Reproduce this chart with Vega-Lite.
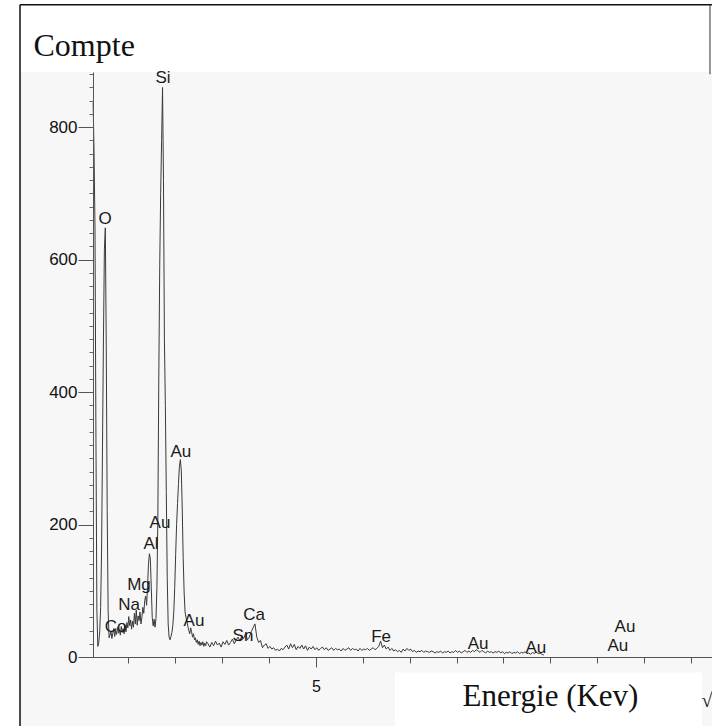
{
  "$schema": "https://vega.github.io/schema/vega-lite/v6.json",
  "autosize": "none",
  "width": 619,
  "height": 585,
  "padding": {"left": 93, "top": 72, "right": 0, "bottom": 69},
  "background": "white",
  "config": {"view": {"stroke": null}},
  "resolve": {"axis": {"x": "independent", "y": "independent"}},
  "datasets": {
    "spectrum": [
      {"e":0.25,"c":837},{"e":0.27,"c":760},{"e":0.29,"c":645},{"e":0.31,"c":330},{"e":0.33,"c":70},{"e":0.35,"c":16},{"e":0.37,"c":22},{"e":0.39,"c":38},{"e":0.41,"c":75},{"e":0.43,"c":160},{"e":0.45,"c":320},{"e":0.47,"c":480},{"e":0.49,"c":615},{"e":0.51,"c":648},{"e":0.53,"c":470},{"e":0.55,"c":220},{"e":0.57,"c":70},{"e":0.59,"c":29},
      {"e":0.61,"c":33},{"e":0.63,"c":39},{"e":0.65,"c":28},{"e":0.67,"c":36},{"e":0.69,"c":43},{"e":0.71,"c":31},{"e":0.73,"c":40},{"e":0.75,"c":34},{"e":0.77,"c":45},{"e":0.79,"c":36},{"e":0.81,"c":41},{"e":0.83,"c":33},{"e":0.85,"c":46},{"e":0.87,"c":37},{"e":0.89,"c":43},{"e":0.91,"c":35},{"e":0.93,"c":48},{"e":0.95,"c":38},{"e":0.97,"c":52},{"e":0.99,"c":44},
      {"e":1.01,"c":61},{"e":1.03,"c":47},{"e":1.05,"c":56},{"e":1.07,"c":42},{"e":1.09,"c":54},{"e":1.11,"c":45},{"e":1.13,"c":66},{"e":1.15,"c":50},{"e":1.17,"c":71},{"e":1.19,"c":48},{"e":1.21,"c":62},{"e":1.23,"c":55},{"e":1.25,"c":68},{"e":1.27,"c":50},{"e":1.29,"c":60},{"e":1.31,"c":75},{"e":1.33,"c":66},{"e":1.35,"c":85},{"e":1.37,"c":92},{"e":1.39,"c":78},{"e":1.41,"c":105},{"e":1.43,"c":140},{"e":1.45,"c":156},{"e":1.47,"c":148},{"e":1.49,"c":105},{"e":1.51,"c":60},{"e":1.53,"c":47},{"e":1.55,"c":57},{"e":1.57,"c":45},{"e":1.59,"c":58},
      {"e":1.61,"c":105},{"e":1.63,"c":210},{"e":1.65,"c":420},{"e":1.67,"c":590},{"e":1.69,"c":700},{"e":1.71,"c":780},{"e":1.73,"c":860},{"e":1.75,"c":720},{"e":1.77,"c":480},{"e":1.79,"c":380},{"e":1.81,"c":250},{"e":1.83,"c":120},{"e":1.85,"c":50},{"e":1.87,"c":30},{"e":1.89,"c":26},{"e":1.91,"c":31},{"e":1.93,"c":37},{"e":1.95,"c":48},{"e":1.97,"c":68},{"e":1.99,"c":105},
      {"e":2.01,"c":155},{"e":2.03,"c":200},{"e":2.05,"c":232},{"e":2.07,"c":262},{"e":2.09,"c":288},{"e":2.11,"c":298},{"e":2.13,"c":282},{"e":2.15,"c":225},{"e":2.17,"c":150},{"e":2.19,"c":98},{"e":2.21,"c":68},{"e":2.23,"c":60},{"e":2.25,"c":54},{"e":2.27,"c":46},{"e":2.29,"c":40},{"e":2.31,"c":35},{"e":2.33,"c":44},{"e":2.35,"c":38},{"e":2.37,"c":30},{"e":2.39,"c":35},{"e":2.41,"c":26},{"e":2.43,"c":29},{"e":2.45,"c":22},{"e":2.47,"c":26},{"e":2.49,"c":19},{"e":2.51,"c":24},{"e":2.53,"c":17},{"e":2.55,"c":22},{"e":2.57,"c":18},{"e":2.59,"c":23},{"e":2.61,"c":16},{"e":2.63,"c":21},{"e":2.65,"c":17},{"e":2.67,"c":23},
      {"e":2.70,"c":20},{"e":2.74,"c":15},{"e":2.78,"c":22},{"e":2.82,"c":17},{"e":2.86,"c":24},{"e":2.90,"c":18},{"e":2.94,"c":21},{"e":2.98,"c":15},{"e":3.02,"c":23},{"e":3.06,"c":19},{"e":3.10,"c":25},{"e":3.14,"c":18},{"e":3.18,"c":22},{"e":3.22,"c":27},{"e":3.26,"c":20},{"e":3.30,"c":26},{"e":3.34,"c":30},{"e":3.38,"c":24},{"e":3.42,"c":32},{"e":3.46,"c":28},{"e":3.50,"c":35},{"e":3.54,"c":26},{"e":3.58,"c":30},{"e":3.62,"c":38},{"e":3.66,"c":44},{"e":3.70,"c":50},{"e":3.74,"c":30},{"e":3.78,"c":22},{"e":3.82,"c":25},{"e":3.86,"c":14},{"e":3.90,"c":18},{"e":3.94,"c":20},{"e":3.98,"c":13},
      {"e":4.02,"c":16},{"e":4.06,"c":12},{"e":4.10,"c":14},{"e":4.14,"c":10},{"e":4.18,"c":12},{"e":4.22,"c":9},{"e":4.26,"c":13},{"e":4.30,"c":11},{"e":4.34,"c":15},{"e":4.38,"c":18},{"e":4.42,"c":12},{"e":4.46,"c":20},{"e":4.50,"c":14},{"e":4.54,"c":19},{"e":4.58,"c":11},{"e":4.62,"c":16},{"e":4.66,"c":13},{"e":4.70,"c":18},{"e":4.74,"c":12},{"e":4.78,"c":17},{"e":4.82,"c":10},{"e":4.86,"c":15},{"e":4.90,"c":12},{"e":4.94,"c":16},{"e":4.98,"c":11},
      {"e":5.02,"c":14},{"e":5.06,"c":10},{"e":5.10,"c":13},{"e":5.14,"c":15},{"e":5.18,"c":11},{"e":5.22,"c":14},{"e":5.26,"c":10},{"e":5.30,"c":12},{"e":5.34,"c":14},{"e":5.38,"c":10},{"e":5.42,"c":13},{"e":5.46,"c":11},{"e":5.50,"c":12},{"e":5.54,"c":9},{"e":5.58,"c":13},{"e":5.62,"c":10},{"e":5.66,"c":12},{"e":5.70,"c":14},{"e":5.74,"c":10},{"e":5.78,"c":13},{"e":5.82,"c":11},{"e":5.86,"c":12},{"e":5.90,"c":9},{"e":5.94,"c":13},{"e":5.98,"c":10},
      {"e":6.02,"c":12},{"e":6.06,"c":11},{"e":6.10,"c":13},{"e":6.14,"c":10},{"e":6.18,"c":12},{"e":6.22,"c":14},{"e":6.26,"c":11},{"e":6.30,"c":13},{"e":6.34,"c":16},{"e":6.38,"c":24},{"e":6.42,"c":14},{"e":6.46,"c":18},{"e":6.50,"c":12},{"e":6.54,"c":15},{"e":6.58,"c":10},{"e":6.62,"c":13},{"e":6.66,"c":9},{"e":6.70,"c":11},{"e":6.74,"c":8},{"e":6.78,"c":10},{"e":6.82,"c":7},{"e":6.86,"c":12},{"e":6.90,"c":9},{"e":6.94,"c":13},{"e":6.98,"c":10},
      {"e":7.02,"c":12},{"e":7.06,"c":8},{"e":7.10,"c":10},{"e":7.14,"c":7},{"e":7.18,"c":9},{"e":7.22,"c":8},{"e":7.26,"c":10},{"e":7.30,"c":7},{"e":7.34,"c":9},{"e":7.38,"c":8},{"e":7.42,"c":7},{"e":7.46,"c":9},{"e":7.50,"c":8},{"e":7.54,"c":6},{"e":7.58,"c":8},{"e":7.62,"c":7},{"e":7.66,"c":9},{"e":7.70,"c":6},{"e":7.74,"c":8},{"e":7.78,"c":7},{"e":7.82,"c":9},{"e":7.86,"c":6},{"e":7.90,"c":8},{"e":7.94,"c":7},{"e":7.98,"c":10},
      {"e":8.02,"c":7},{"e":8.06,"c":9},{"e":8.10,"c":6},{"e":8.14,"c":8},{"e":8.18,"c":10},{"e":8.22,"c":7},{"e":8.26,"c":9},{"e":8.30,"c":7},{"e":8.34,"c":10},{"e":8.38,"c":8},{"e":8.42,"c":11},{"e":8.46,"c":9},{"e":8.50,"c":7},{"e":8.54,"c":10},{"e":8.58,"c":8},{"e":8.62,"c":6},{"e":8.66,"c":9},{"e":8.70,"c":7},{"e":8.74,"c":8},{"e":8.78,"c":6},{"e":8.82,"c":8},{"e":8.86,"c":7},{"e":8.90,"c":9},{"e":8.94,"c":6},{"e":8.98,"c":8},
      {"e":9.02,"c":5},{"e":9.06,"c":7},{"e":9.10,"c":6},{"e":9.14,"c":8},{"e":9.18,"c":5},{"e":9.22,"c":7},{"e":9.26,"c":6},{"e":9.30,"c":8},{"e":9.34,"c":5},{"e":9.38,"c":7},{"e":9.42,"c":6},{"e":9.46,"c":8},{"e":9.50,"c":5},{"e":9.54,"c":6},{"e":9.58,"c":4},{"e":9.62,"c":7},{"e":9.66,"c":5},{"e":9.70,"c":8},{"e":9.74,"c":5},{"e":9.78,"c":6},{"e":9.82,"c":4},{"e":9.86,"c":3}
    ],
    "labels": [
      {"e":1.74,"c":875,"t":"Si"},
      {"e":0.503,"c":661,"t":"O"},
      {"e":2.12,"c":310,"t":"Au"},
      {"e":1.676,"c":202,"t":"Au"},
      {"e":1.484,"c":170,"t":"Al"},
      {"e":1.228,"c":108,"t":"Mg"},
      {"e":1.015,"c":78,"t":"Na"},
      {"e":0.727,"c":45,"t":"Co"},
      {"e":2.40,"c":55,"t":"Au"},
      {"e":3.445,"c":32,"t":"Sn"},
      {"e":3.68,"c":64,"t":"Ca"},
      {"e":6.39,"c":30,"t":"Fe"},
      {"e":8.46,"c":19,"t":"Au"},
      {"e":9.69,"c":14,"t":"Au"},
      {"e":11.59,"c":46,"t":"Au"},
      {"e":11.44,"c":16,"t":"Au"}
    ]
  },
  "layer": [
    {
      "data": {"values": [{}]},
      "mark": {"type": "rect", "fill": "#f7f7f7", "stroke": null},
      "encoding": {
        "x": {"datum": -1.309, "type": "quantitative", "axis": null},
        "x2": {"datum": 13.8},
        "y": {"datum": 883.4, "type": "quantitative", "axis": null},
        "y2": {"datum": -115}
      }
    },
    {
      "data": {"values": [{}]},
      "mark": {"type": "rect", "fill": "white", "stroke": null},
      "encoding": {
        "x": {"datum": 6.687, "type": "quantitative", "axis": null},
        "x2": {"datum": 13.232},
        "y": {"datum": -23.4, "type": "quantitative", "axis": null},
        "y2": {"datum": -115}
      }
    },
    {
      "data": {"values": [{}]},
      "mark": {"type": "rule", "color": "#111", "strokeWidth": 1.5},
      "encoding": {
        "x": {"datum": -1.309, "type": "quantitative", "axis": null},
        "x2": {"datum": 13.8},
        "y": {"datum": 985, "type": "quantitative", "axis": null}
      }
    },
    {
      "data": {"values": [{}]},
      "mark": {"type": "rule", "color": "#111", "strokeWidth": 1.5},
      "encoding": {
        "x": {"datum": -1.309, "type": "quantitative", "axis": null},
        "y": {"datum": 985, "type": "quantitative", "axis": null},
        "y2": {"datum": -115}
      }
    },
    {
      "data": {"values": [{}]},
      "mark": {"type": "rule", "color": "#333", "strokeWidth": 1},
      "encoding": {
        "x": {"datum": 13.403, "type": "quantitative", "axis": null},
        "y": {"datum": 985, "type": "quantitative", "axis": null},
        "y2": {"datum": 880}
      }
    },
    {
      "data": {"values": [{}]},
      "mark": {"type": "text", "font": "Liberation Serif", "fontSize": 20, "color": "#111", "align": "center", "baseline": "alphabetic", "text": "√"},
      "encoding": {
        "x": {"datum": 13.34, "type": "quantitative", "axis": null},
        "y": {"datum": -76, "type": "quantitative", "axis": null}
      }
    },
    {
      "data": {"name": "spectrum"},
      "mark": {"type": "line", "color": "#3a3a3a", "strokeWidth": 1, "interpolate": "linear"},
      "encoding": {
        "x": {
          "field": "e", "type": "quantitative",
          "scale": {"domain": [0.2473, 13.446], "nice": false, "zero": false},
          "axis": {
            "orient": "bottom",
            "zindex": 1,
            "values": [1,2,3,4,5,6,7,8,9,10,11,12,13],
            "labels": false,
            "grid": false,
            "domainColor": "#555",
            "tickColor": "#555",
            "tickSize": 6,
            "title": "Energie (Kev)",
            "titleFont": "Liberation Serif",
            "titleFontSize": 31,
            "titleFontWeight": "normal",
            "titleColor": "#111",
            "titleX": 457,
            "titleY": 48,
            "titleAlign": "center",
            "titleBaseline": "alphabetic"
          }
        },
        "y": {
          "field": "c", "type": "quantitative",
          "scale": {"domain": [0, 883.4], "nice": false},
          "axis": {
            "orient": "left",
            "zindex": 1,
            "values": [0,20,40,60,80,100,120,140,160,180,200,220,240,260,280,300,320,340,360,380,400,420,440,460,480,500,520,540,560,580,600,620,640,660,680,700,720,740,760,780,800,820,840,860,880],
            "labels": false,
            "grid": false,
            "domainColor": "#555",
            "tickColor": "#666",
            "tickSize": 4,
            "title": "Compte",
            "titleFont": "Liberation Serif",
            "titleFontSize": 32,
            "titleFontWeight": "normal",
            "titleColor": "#111",
            "titleAngle": 0,
            "titleX": -60,
            "titleY": -17,
            "titleAlign": "left",
            "titleBaseline": "alphabetic"
          }
        }
      }
    },
    {
      "data": {"name": "labels"},
      "mark": {"type": "text", "font": "Liberation Sans", "fontSize": 17, "color": "#1a1a1a", "align": "center", "baseline": "middle"},
      "encoding": {
        "x": {
          "field": "e", "type": "quantitative",
          "axis": {
            "orient": "bottom",
            "zindex": 1,
            "values": [5],
            "domain": false,
            "grid": false,
            "tickColor": "#555",
            "tickSize": 10,
            "labelFont": "Liberation Sans",
            "labelFontSize": 16,
            "labelColor": "#111",
            "labelPadding": 11,
            "labelFlush": false,
            "title": null
          }
        },
        "y": {
          "field": "c", "type": "quantitative",
          "axis": {
            "orient": "left",
            "zindex": 1,
            "values": [0,200,400,600,800],
            "domain": false,
            "grid": false,
            "tickColor": "#555",
            "tickSize": 15,
            "labelFont": "Liberation Sans",
            "labelFontSize": 17,
            "labelColor": "#111",
            "labelPadding": 1,
            "labelFlush": false,
            "labelOverlap": false,
            "title": null
          }
        },
        "text": {"field": "t"}
      }
    }
  ]
}
